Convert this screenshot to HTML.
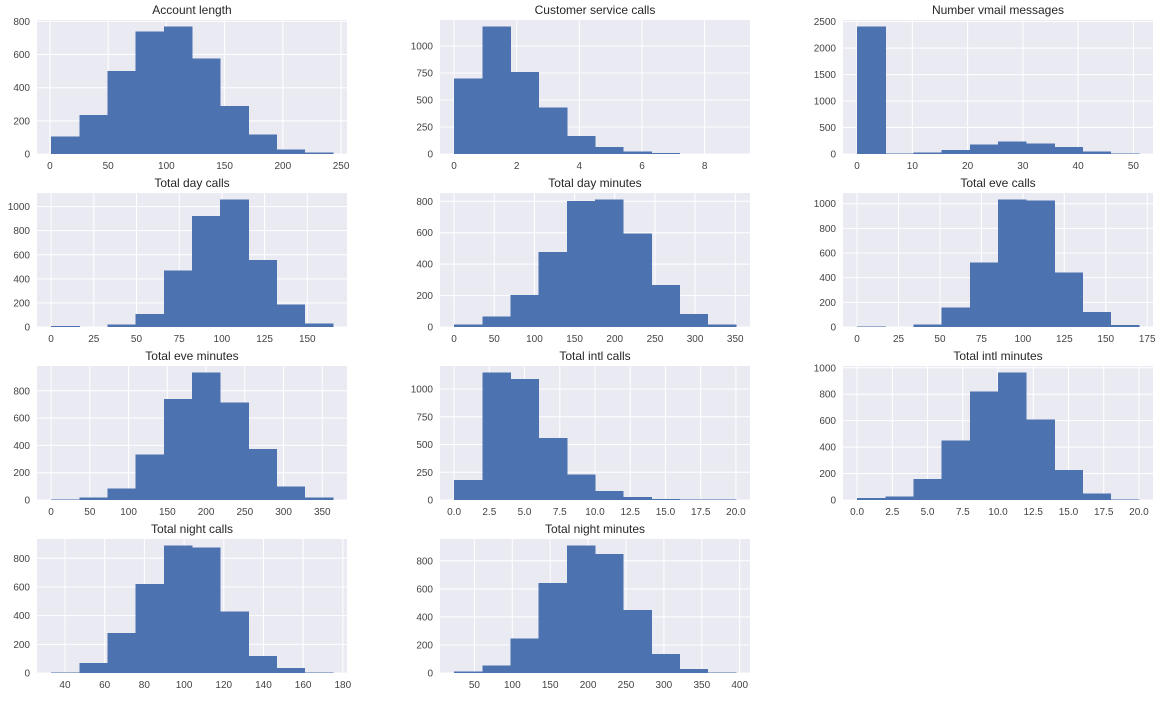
<!DOCTYPE html>
<html><head><meta charset="utf-8"><style>
body{margin:0;background:#fff;}
svg text{font-family:"Liberation Sans",Arial,sans-serif;}
</style></head><body>
<svg id="s" width="1162" height="696" xmlns="http://www.w3.org/2000/svg"></svg>
<script>
const P=[
["Account length",1,243,[107,234,502,740,770,577,290,117,27,8],[0,50,100,150,200,250],[0,200,400,600,800],0],
["Customer service calls",0,9,[697,1181,759,429,166,66,22,9,2,2],[0,2,4,6,8],[0,250,500,750,1000],0],
["Number vmail messages",0,51,[2411,5,30,80,180,240,200,130,50,10],[0,10,20,30,40,50],[0,500,1000,1500,2000,2500],0],
["Total day calls",0,165,[8,0,20,110,470,920,1060,555,185,30],[0,25,50,75,100,125,150],[0,200,400,600,800,1000],0],
["Total day minutes",0,350.8,[17,68,203,478,802,812,595,267,82,17],[0,50,100,150,200,250,300,350],[0,200,400,600,800],0],
["Total eve calls",0,170,[5,0,20,160,525,1035,1025,440,120,15],[0,25,50,75,100,125,150,175],[0,200,400,600,800,1000],0],
["Total eve minutes",0,363.7,[3,20,85,335,740,935,715,375,100,20],[0,50,100,150,200,250,300,350],[0,200,400,600,800],0],
["Total intl calls",0,20,[180,1150,1090,560,230,80,25,10,5,3],[0,2.5,5,7.5,10,12.5,15,17.5,20],[0,250,500,750,1000],1],
["Total intl minutes",0,20,[15,25,160,450,820,965,610,225,50,5],[0,2.5,5,7.5,10,12.5,15,17.5,20],[0,200,400,600,800,1000],1],
["Total night calls",33,175,[5,70,280,620,890,875,430,120,35,5],[40,60,80,100,120,140,160,180],[0,200,400,600,800],0],
["Total night minutes",23.2,395,[10,55,245,640,910,850,450,135,30,5],[50,100,150,200,250,300,350,400],[0,200,400,600,800],0]
];
const L=[37,440,843],T=[20,193,366,539],W=310,H=134;
let h='';
P.forEach((p,i)=>{
 const [t,a,b,c,xt,yt,dec]=p;const x0=L[i%3],y0=T[Math.floor(i/3)];
 const span=b-a,lo=a-span*0.05,hi=b+span*0.05;
 const ymax=Math.max(...c)*1.05;
 const X=v=>x0+(v-lo)/(hi-lo)*W, Y=v=>y0+H-v/ymax*H;
 h+=`<rect x="${x0}" y="${y0}" width="${W}" height="${H}" fill="#EAEAF2"/>`;
 xt.forEach(v=>{const x=X(v);h+=`<line x1="${x}" y1="${y0}" x2="${x}" y2="${y0+H}" stroke="#fff" stroke-width="1"/>`;
  h+=`<text x="${x}" y="${y0+H+15}" font-size="10" fill="#444" text-anchor="middle">${dec?v.toFixed(1):v}</text>`;});
 yt.forEach(v=>{const y=Y(v);h+=`<line x1="${x0}" y1="${y}" x2="${x0+W}" y2="${y}" stroke="#fff" stroke-width="1"/>`;
  h+=`<text x="${x0-7}" y="${y+3.5}" font-size="10" fill="#444" text-anchor="end">${v}</text>`;});
 const bw=span/10;
 c.forEach((n,k)=>{if(n<=0)return;const xa=X(a+k*bw),xb=X(a+(k+1)*bw),y=Y(n);
  h+=`<rect x="${xa}" y="${y}" width="${xb-xa+0.5}" height="${y0+H-y}" fill="#4C72B0" shape-rendering="crispEdges"/>`;});
 h+=`<text x="${x0+W/2}" y="${y0-6}" font-size="12" fill="#262626" text-anchor="middle">${t}</text>`;
});
document.getElementById('s').innerHTML=h;
</script>
</body></html>
